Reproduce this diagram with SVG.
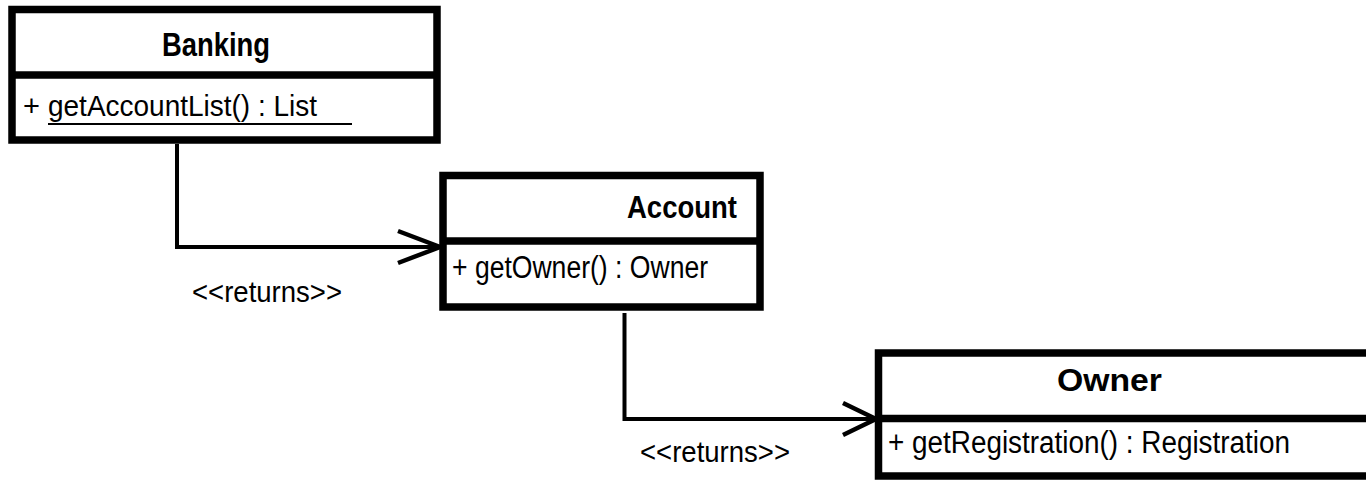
<svg xmlns="http://www.w3.org/2000/svg" width="1366" height="483" viewBox="0 0 1366 483">
  <style>
    .box { fill: #ffffff; stroke: #000000; stroke-width: 7.5; }
    .div { stroke: #000000; stroke-width: 7.5; }
    .title { font-family: "Liberation Sans", Arial, sans-serif; font-weight: bold; fill: #000000; }
    .member { font-family: "Liberation Sans", Arial, sans-serif; fill: #000000; }
    .link { fill: none; stroke: #000000; stroke-width: 4; }
    .head { fill: none; stroke: #000000; stroke-width: 4.5; stroke-linecap: butt; }
  </style>

  <!-- Banking class -->
  <g id="banking">
    <rect class="box" x="12" y="9.5" width="425" height="130.5"/>
    <line class="div" x1="12" y1="75" x2="437" y2="75"/>
    <text class="title" x="162" y="56" font-size="34" textLength="108" lengthAdjust="spacingAndGlyphs">Banking</text>
    <text class="member" x="23" y="116" font-size="29">+</text>
    <text class="member" x="48" y="116" font-size="29" textLength="269" lengthAdjust="spacingAndGlyphs">getAccountList() : List</text>
    <line x1="48" y1="124" x2="352" y2="124" stroke="#000000" stroke-width="2"/>
  </g>

  <!-- Account class -->
  <g id="account">
    <rect class="box" x="443" y="175.5" width="317" height="131.5"/>
    <line class="div" x1="443" y1="241" x2="760" y2="241"/>
    <text class="title" x="627" y="218" font-size="32" textLength="110" lengthAdjust="spacingAndGlyphs">Account</text>
    <text class="member" x="452" y="278" font-size="31" textLength="256" lengthAdjust="spacingAndGlyphs">+ getOwner() : Owner</text>
  </g>

  <!-- Owner class (runs past the right edge) -->
  <g id="owner">
    <rect class="box" x="878.5" y="353" width="500" height="123"/>
    <line class="div" x1="878.5" y1="418.5" x2="1378" y2="418.5"/>
    <text class="title" x="1057" y="391" font-size="32" textLength="105" lengthAdjust="spacingAndGlyphs">Owner</text>
    <text class="member" x="888" y="453" font-size="31" textLength="402" lengthAdjust="spacingAndGlyphs">+ getRegistration() : Registration</text>
  </g>

  <!-- Connectors -->
  <g id="connectors">
    <polyline class="link" points="177,144 177,247 440,247"/>
    <polyline class="head" points="398,231 440,247 398,263"/>
    <text class="member" x="192" y="302" font-size="29" textLength="150" lengthAdjust="spacingAndGlyphs">&lt;&lt;returns&gt;&gt;</text>

    <polyline class="link" points="624.5,313 624.5,419 876,419"/>
    <polyline class="head" points="843,403 876,419 843,435"/>
    <text class="member" x="640" y="462" font-size="29" textLength="150" lengthAdjust="spacingAndGlyphs">&lt;&lt;returns&gt;&gt;</text>
  </g>
</svg>
